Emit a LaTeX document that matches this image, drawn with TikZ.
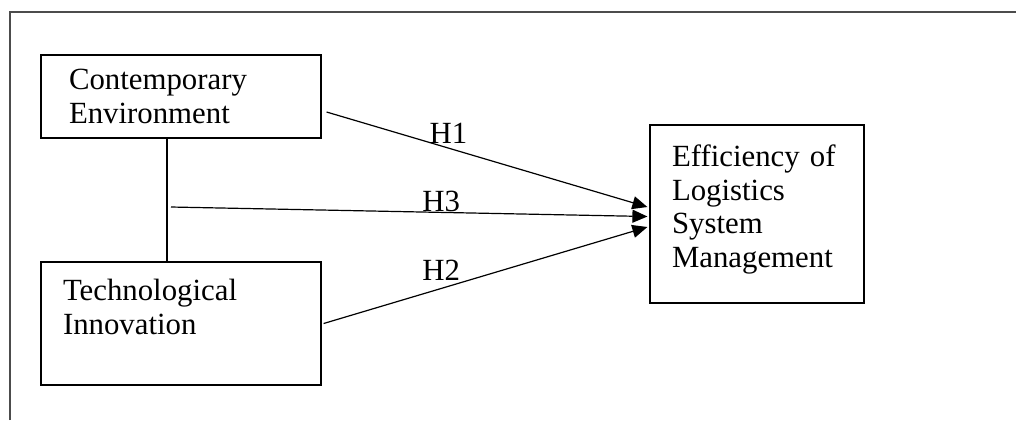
\documentclass[tikz,border=0pt]{standalone}
\usepackage{fontspec}
\setmainfont{Liberation Serif}
\usetikzlibrary{arrows.meta}
\begin{document}
\begin{tikzpicture}[x=0.5pt,y=-0.5pt,
        box/.style={draw,line width=0.6pt,align=left,inner xsep=11pt,
            font=\fontsize{15.4}{16.8}\selectfont},
        hyp/.style={inner sep=0pt,font=\fontsize{15.4}{16.8}\selectfont},
        link/.style={line width=0.6pt,-{Triangle[length=7.5pt,width=6.5pt]}}]
    \useasboundingbox (0,0) rectangle (1016,420);
    % frame
    \draw[black!70,line width=1pt] (10,420) -- (10,12) -- (1016,12);
    % boxes
    \node[box,inner xsep=14pt,text width=112pt,minimum height=41.5pt] (env) at (181,96.5) {Contemporary\\Environment};
    \node[box,text width=118pt,minimum height=61.5pt] (tech) at (181,323.5) {Technological\\Innovation\\\mbox{}};
    \node[box,text width=85pt,minimum height=89pt] (eff) at (757,214) {Efficiency of\\Logistics\\System\\Management\\[-9pt]\mbox{}};
    % links
    \draw[line width=0.6pt] ([xshift=-7pt]env.south) -- ([xshift=-7pt]tech.north);
    \coordinate (join) at (171,207);
    \draw[link] ([xshift=2.5pt,yshift=-7.75pt]env.east) -- node[hyp,pos=0.38,above=2pt] (h1) {H1} ([xshift=-1pt,yshift=3.5pt]eff.west);
    \draw[link] (join) -- node[hyp,pos=0.567,above=0pt] (h3) {H3} ([xshift=-1pt,yshift=-1.25pt]eff.west);
    \draw[link] ([xshift=1pt]tech.east) -- node[hyp,pos=0.363,above=3.5pt] (h2) {H2} ([xshift=-1pt,yshift=-6.5pt]eff.west);
\end{tikzpicture}
\end{document}
